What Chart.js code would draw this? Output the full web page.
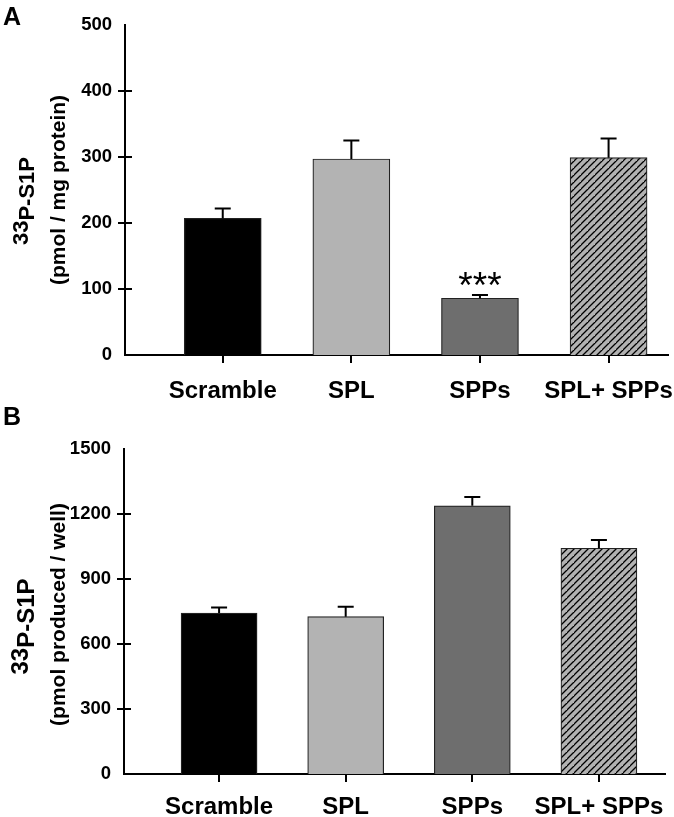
<!DOCTYPE html>
<html><head><meta charset="utf-8">
<script src="https://cdn.jsdelivr.net/npm/chart.js@4/dist/chart.umd.min.js"></script>
<style>
html,body{margin:0;padding:0;background:#fff;width:674px;height:817px;overflow:hidden;}
#wa{position:absolute;left:0;top:0;width:674px;height:402px;}
#wb{position:absolute;left:0;top:402px;width:674px;height:415px;}
canvas{display:block;}
</style></head><body>
<div id="wa"><canvas id="ca" width="674" height="402"></canvas></div>
<div id="wb"><canvas id="cb" width="674" height="415"></canvas></div>
<script>
// ---- data ----
const categories = ['Scramble', 'SPL', 'SPPs', 'SPL+ SPPs'];
const valuesA = [207, 297, 86, 299];
const errorsA = [15, 28, 5, 29];
const ticksA = [0, 100, 200, 300, 400, 500];
const valuesB = [743, 726, 1238, 1042];
const errorsB = [26, 46, 40, 38];
const ticksB = [0, 300, 600, 900, 1200, 1500];

const FONT = '"Liberation Sans", Arial, Helvetica, sans-serif';
Chart.defaults.font.family = FONT;
Chart.defaults.color = '#000';

function hatch() {
  const s = 7, c = document.createElement('canvas');
  c.width = s; c.height = s;
  const g = c.getContext('2d');
  g.fillStyle = '#b2b2b2'; g.fillRect(0, 0, s, s);
  g.strokeStyle = '#000'; g.lineWidth = 1.3;
  g.beginPath();
  g.moveTo(-1, s + 1); g.lineTo(s + 1, -1);
  g.moveTo(-1 - s, s + 1); g.lineTo(1, -1);
  g.moveTo(s - 1, 2 * s + 1); g.lineTo(2 * s + 1, s - 1);
  g.stroke();
  return g.createPattern(c, 'repeat');
}

function noPad(s) { s.paddingLeft = 0; s.paddingRight = 0; s.paddingTop = 0; s.paddingBottom = 0; }

function decor(o) {
  return {
    id: 'decor' + o.letter,
    afterDatasetsDraw(chart) {
      const ctx = chart.ctx, ys = chart.scales.y, meta = chart.getDatasetMeta(0);
      ctx.save();
      ctx.strokeStyle = '#000'; ctx.lineWidth = 2;
      meta.data.forEach((bar, i) => {
        const yTop = bar.y, yE = ys.getPixelForValue(o.values[i] + o.errors[i]);
        ctx.beginPath();
        ctx.moveTo(bar.x, yTop); ctx.lineTo(bar.x, yE);
        ctx.moveTo(bar.x - 8, yE); ctx.lineTo(bar.x + 8, yE);
        ctx.stroke();
      });
      ctx.restore();
    },
    afterDraw(chart) {
      const ctx = chart.ctx, ys = chart.scales.y, xs = chart.scales.x, a = chart.chartArea;
      ctx.save();
      ctx.strokeStyle = '#000'; ctx.lineWidth = 2;
      ys.ticks.forEach(t => {
        if (t.value === ys.min || t.value === ys.max) return;
        const py = Math.round(ys.getPixelForValue(t.value));
        ctx.beginPath(); ctx.moveTo(a.left - 7, py); ctx.lineTo(a.left + 7, py); ctx.stroke();
      });
      xs.ticks.forEach(t => {
        const px = Math.round(xs.getPixelForValue(t.value));
        ctx.beginPath(); ctx.moveTo(px, a.bottom); ctx.lineTo(px, a.bottom + 8); ctx.stroke();
      });
      ctx.fillStyle = '#000';
      // panel letter
      ctx.font = 'bold 25px ' + FONT;
      ctx.textAlign = 'left'; ctx.textBaseline = 'alphabetic';
      ctx.fillText(o.letter, 3, o.letterY);
      // y title
      const cy = (a.top + a.bottom) / 2;
      ctx.save();
      ctx.translate(34, cy + o.t1dy); ctx.rotate(-Math.PI / 2);
      ctx.font = 'bold ' + o.t1size + 'px ' + FONT;
      const w1 = ctx.measureText('33').width, w2 = ctx.measureText('P-S1P').width;
      const st = -(w1 + w2) / 2;
      ctx.fillText('33', st, -6);
      ctx.fillText('P-S1P', st + w1, 0);
      ctx.restore();
      ctx.save();
      ctx.translate(59, cy + o.t2dy); ctx.rotate(-Math.PI / 2);
      ctx.font = 'bold 21px ' + FONT;
      ctx.textAlign = 'center'; ctx.textBaseline = 'middle';
      ctx.fillText(o.title2, 0, 0);
      ctx.restore();
      if (o.star !== null) {
        const i = o.star;
        const px = xs.getPixelForValue(i);
        const py = ys.getPixelForValue(o.values[i] + o.errors[i]);
        ctx.font = '37px ' + FONT;
        ctx.textAlign = 'center'; ctx.textBaseline = 'alphabetic';
        ctx.fillText('***', px, py + 3);
      }
      ctx.restore();
    }
  };
}

function make(id, o) {
  const colors = ['#000000', '#b3b3b3', '#6e6e6e', hatch()];
  return new Chart(document.getElementById(id), {
    type: 'bar',
    data: {
      datasets: [{
        data: o.values.map((v, i) => ({ x: i, y: v })),
        backgroundColor: colors,
        borderColor: '#222',
        borderWidth: 1.2,
        barThickness: o.barW
      }]
    },
    options: {
      responsive: false,
      animation: false,
      events: [],
      layout: { autoPadding: false, padding: { left: 0, right: o.padR, top: o.top, bottom: 0 } },
      plugins: { legend: { display: false }, tooltip: { enabled: false }, title: { display: false } },
      scales: {
        x: {
          type: 'linear', min: o.xMin, max: o.xMax, offset: false,
          grid: { display: false, drawTicks: false },
          border: { display: true, color: '#000', width: 2 },
          afterBuildTicks: s => { s.ticks = categories.map((c, i) => ({ value: i })); },
          afterFit: s => { s.height = o.xH; noPad(s); },
          ticks: {
            autoSkip: false, maxRotation: 0, minRotation: 0, padding: o.labPad,
            font: { size: 24, weight: 'bold' },
            callback: v => categories[v]
          }
        },
        y: {
          min: o.ticks[0], max: o.ticks[o.ticks.length - 1],
          grid: { display: false, drawTicks: false },
          border: { display: true, color: '#000', width: 2 },
          afterBuildTicks: s => { s.ticks = o.ticks.map(v => ({ value: v })); },
          afterFit: s => { s.width = o.yW; noPad(s); },
          ticks: { padding: 13, font: { size: 18.5, weight: 'bold' }, callback: v => String(v) }
        }
      }
    },
    plugins: [decor(o)]
  });
}

make('ca', {
  letter: 'A', letterY: 25, values: valuesA, errors: errorsA, ticks: ticksA,
  top: 25, xH: 47, yW: 125, padR: 6, xMin: -0.76, xMax: 3.462, barW: 77, labPad: 22,
  t1dy: 11, t1size: 22, t2dy: 0, title2: '(pmol / mg protein)', star: 2
});
make('cb', {
  letter: 'B', letterY: 23, values: valuesB, errors: errorsB, ticks: ticksB,
  top: 47, xH: 43, yW: 124, padR: 9, xMin: -0.751, xMax: 3.522, barW: 76, labPad: 19,
  t1dy: 15, t1size: 24, t2dy: 3, title2: '(pmol produced / well)', star: null
});
</script>
</body></html>
